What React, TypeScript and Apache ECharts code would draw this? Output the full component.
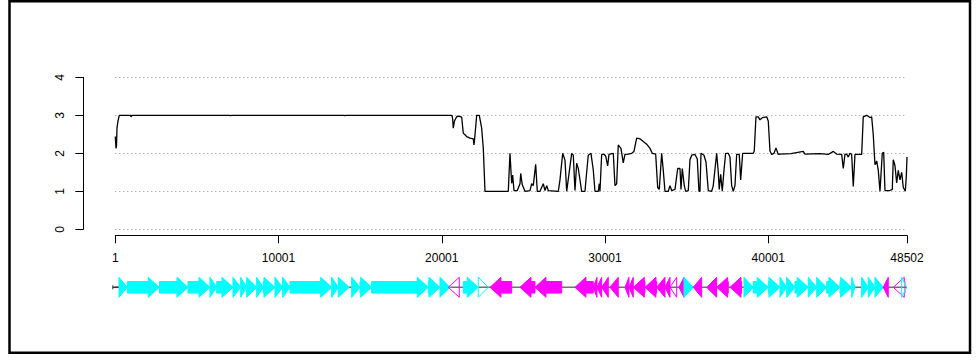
import { useEffect, useRef } from "react";
import * as echarts from "echarts";

// Genome length and labelled positions along it
const seqLength = 48502;
const xTickValues = [1, 10001, 20001, 30001, 40001, 48502];

// Conservation depth along the sequence: [position, depth]
const depthProfile: [number, number][] = [
  [1, 2.44], [44, 2.13], [75, 2.2], [105, 2.67], [166, 2.85], [246, 3.0],
  [930, 3.0], [963, 2.96], [1024, 3.0], [7000, 3.0], [7060, 2.99], [7120, 3.0],
  [14000, 3.0], [14060, 2.99], [14120, 3.0], [20626, 3.0], [20669, 2.9],
  [20706, 2.66], [20780, 2.85], [20914, 2.96], [20994, 2.98], [21221, 2.95],
  [21319, 2.53], [21527, 2.44], [21729, 2.4], [21931, 2.38], [21974, 2.22],
  [22036, 2.48], [22140, 3.0], [22300, 3.0], [22446, 2.66], [22545, 2.13],
  [22649, 1.0], [24076, 1.0], [24180, 2.0], [24284, 1.21], [24345, 1.43],
  [24425, 1.02], [24627, 1.02], [24793, 1.2], [24836, 1.47], [24934, 1.17],
  [25099, 1.0], [25405, 1.02], [25509, 1.2], [25607, 1.15], [25754, 1.71],
  [25853, 1.0], [26018, 1.0], [26220, 1.2], [26325, 1.02], [26429, 1.15],
  [26527, 1.02], [27139, 1.0], [27243, 1.3], [27409, 2.0], [27550, 1.82],
  [27654, 1.0], [27960, 2.0], [28058, 1.95], [28162, 1.02], [28266, 1.74],
  [28364, 1.6], [28572, 1.0], [28774, 1.0], [28878, 1.5], [28976, 1.95],
  [29142, 2.0], [29282, 1.56], [29387, 1.0], [29589, 1.0], [29650, 1.2],
  [29693, 1.0], [29797, 1.97], [29957, 1.97], [30042, 1.93], [30165, 1.67],
  [30245, 1.97], [30508, 2.0], [30612, 1.15], [30716, 1.2], [30814, 2.22],
  [30979, 2.13], [31120, 1.75], [31225, 1.97], [31427, 1.98], [31635, 2.0],
  [31776, 2.05], [31941, 2.4], [32144, 2.38], [32346, 2.31], [32554, 2.24],
  [32756, 2.13], [32897, 2.0], [33105, 1.98], [33228, 1.1], [33326, 1.05],
  [33473, 2.0], [33571, 1.55], [33675, 1.0], [33878, 1.0], [33982, 1.15],
  [34086, 1.02], [34289, 1.05], [34454, 1.6], [34595, 1.6], [34656, 1.05],
  [34736, 1.6], [34858, 1.15], [34944, 1.0], [35103, 1.02], [35207, 1.83],
  [35311, 1.95], [35513, 1.97], [35654, 1.85], [35758, 1.0], [35819, 1.0],
  [35881, 2.0], [36064, 1.95], [36187, 1.77], [36328, 1.02], [36535, 1.0],
  [36633, 1.15], [36842, 2.0], [36940, 1.5], [37001, 1.05], [37087, 1.45],
  [37185, 1.0], [37289, 1.55], [37393, 2.0], [37553, 2.0], [37657, 1.9],
  [37761, 1.15], [37859, 1.0], [37963, 1.15], [38067, 1.97], [38226, 1.97],
  [38312, 1.3], [38435, 2.0], [39084, 2.0], [39145, 2.06], [39249, 2.96],
  [39390, 2.96], [39495, 2.88], [39660, 2.94], [39905, 2.96], [40003, 2.85],
  [40108, 2.06], [40212, 1.97], [40353, 2.0], [40476, 2.14], [40616, 1.97],
  [40720, 1.98], [41400, 1.99], [42147, 2.05], [42251, 1.98], [43170, 1.99],
  [43679, 1.97], [43985, 2.05], [44193, 1.98], [44500, 1.97], [44598, 1.6],
  [44702, 1.97], [44806, 1.98], [44904, 1.9], [45008, 2.0], [45112, 1.97],
  [45210, 1.13], [45315, 1.97], [45725, 1.97], [45823, 2.96], [46031, 3.0],
  [46233, 2.94], [46338, 2.96], [46436, 2.48], [46540, 1.7], [46645, 1.8],
  [46743, 1.55], [46847, 1.0], [46988, 2.0], [47073, 2.03], [47153, 1.02],
  [47459, 1.02], [47600, 1.05], [47661, 1.83], [47765, 1.68], [47869, 1.22],
  [47967, 1.55], [48071, 1.3], [48176, 1.5], [48275, 1.1], [48400, 1.0],
  [48460, 1.4], [48502, 1.9],
];

// Annotated genes: [start, end, strand (1 forward, -1 reverse), filled (1) or outline (0)]
const genes: [number, number, number, number][] = [
  [227, 735, 1, 1], [736, 2695, 1, 1], [2708, 4454, 1, 1], [4454, 5801, 1, 1],
  [5801, 6212, 1, 1], [6212, 7210, 1, 1], [7210, 7682, 1, 1], [7682, 8050, 1, 1],
  [8050, 8662, 1, 1], [8662, 9066, 1, 1], [9066, 9783, 1, 1], [9783, 10255, 1, 1],
  [10255, 10702, 1, 1], [10702, 13257, 1, 1], [13257, 13661, 1, 1], [13661, 14335, 1, 1],
  [14482, 14990, 1, 1], [14990, 15707, 1, 1], [15707, 19174, 1, 1], [19174, 19891, 1, 1],
  [19891, 20504, 1, 1], [20400, 21073, -1, 0], [21318, 22237, 1, 1], [22237, 22850, 1, 0],
  [22954, 24284, -1, 1], [24792, 25711, -1, 1], [25711, 27347, -1, 1], [28161, 29282, -1, 1],
  [29282, 29509, -1, 1], [29509, 29797, -1, 1], [29797, 30201, -1, 1], [30306, 30814, -1, 1],
  [31224, 31469, -1, 1], [31469, 31734, -1, 1], [31734, 32450, -1, 1], [32450, 33167, -1, 1],
  [33167, 33675, -1, 1], [33675, 33982, -1, 1], [33982, 34392, -1, 0], [34533, 34839, -1, 1],
  [34839, 35408, 1, 1], [35408, 35923, -1, 1], [36229, 36842, -1, 1], [36842, 37553, -1, 1],
  [37657, 38374, -1, 1], [38515, 39084, 1, 1], [39084, 40003, 1, 1], [40003, 40720, 1, 1],
  [40720, 41131, 1, 1], [41131, 41638, 1, 1], [41638, 42453, 1, 1], [42453, 42968, 1, 1],
  [42968, 43580, 1, 1], [43580, 44396, 1, 1], [44396, 45112, 1, 1], [45112, 45315, 1, 1],
  [45724, 46129, 1, 1], [46129, 46540, 1, 1], [46540, 47048, 1, 1], [47048, 47354, -1, 1],
  [47661, 48378, -1, 0], [48176, 48482, 1, 0],
];

const FONT = '"Liberation Sans", Arial, Helvetica, sans-serif';
const FORWARD = "#00FFFF";
const REVERSE = "#FF00FF";

export default function App() {
  const ref = useRef<HTMLDivElement>(null);

  useEffect(() => {
    if (!ref.current) return;
    const chart = echarts.init(ref.current, null, { renderer: "svg" });

    const option: any = {
      animation: false,
      backgroundColor: "#ffffff",
      textStyle: { fontFamily: FONT },
      graphic: [
        {
          type: "rect",
          shape: { x: 9.5, y: 1.2, width: 960.5, height: 351.5 },
          style: { fill: "none", stroke: "#000", lineWidth: 2.5 },
          z: 100,
        },
      ],
      grid: [
        { left: 115.3, right: 70, top: 77.3, height: 152, containLabel: false },
        { left: 115.3, right: 70, top: 277.3, height: 20, containLabel: false },
      ],
      xAxis: [
        {
          type: "value",
          gridIndex: 0,
          min: 1,
          max: seqLength,
          position: "bottom",
          offset: 6,
          axisLine: { show: true, onZero: false, lineStyle: { color: "#000", width: 1 } },
          axisTick: { show: true, length: 8, customValues: xTickValues, lineStyle: { color: "#000", width: 1 } },
          axisLabel: {
            show: true,
            customValues: xTickValues,
            margin: 17,
            fontSize: 12,
            color: "#000",
            fontFamily: FONT,
            formatter: (v: number) => String(v),
          },
          splitLine: { show: false },
        },
        {
          type: "value",
          gridIndex: 1,
          min: 1,
          max: seqLength,
          show: false,
        },
      ],
      yAxis: [
        {
          type: "value",
          gridIndex: 0,
          min: 0,
          max: 4,
          interval: 1,
          offset: 32,
          axisLine: { show: true, lineStyle: { color: "#000", width: 1 } },
          axisTick: { show: true, length: 8, lineStyle: { color: "#000", width: 1 } },
          axisLabel: { rotate: 90, margin: 17, fontSize: 12, color: "#000", fontFamily: FONT },
          splitLine: { show: true, lineStyle: { color: "#8f8f8f", width: 1, type: [1, 3] } },
        },
        { type: "value", gridIndex: 1, min: 0, max: 1, show: false },
      ],
      series: [
        {
          type: "line",
          xAxisIndex: 0,
          yAxisIndex: 0,
          data: depthProfile,
          showSymbol: false,
          symbol: "none",
          lineStyle: { color: "#000", width: 1.3 },
          z: 5,
        },
        {
          type: "line",
          xAxisIndex: 1,
          yAxisIndex: 1,
          data: [
            [1, 0.5],
            [seqLength, 0.5],
          ],
          showSymbol: false,
          symbol: "none",
          lineStyle: { color: "#707070", width: 1.5 },
          z: 1,
        },
        {
          // small start marker at the left end of the backbone
          type: "custom",
          xAxisIndex: 1,
          yAxisIndex: 1,
          data: [[1]],
          z: 3,
          renderItem: (_params: any, api: any) => {
            const p = api.coord([api.value(0), 0.5]);
            return {
              type: "group",
              children: [
                {
                  type: "line",
                  shape: { x1: p[0] - 2.5, y1: p[1] - 2, x2: p[0] - 2.5, y2: p[1] + 2 },
                  style: { stroke: "#333", lineWidth: 1 },
                },
                {
                  type: "line",
                  shape: { x1: p[0] - 2.5, y1: p[1], x2: p[0] + 3, y2: p[1] },
                  style: { stroke: "#333", lineWidth: 1.5 },
                },
              ],
            };
          },
        },
        {
          type: "custom",
          xAxisIndex: 1,
          yAxisIndex: 1,
          data: genes,
          z: 2,
          renderItem: (_params: any, api: any) => {
            const s = api.coord([api.value(0), 0.5]);
            const e = api.coord([api.value(1), 0.5]);
            const strand = api.value(2);
            const filled = api.value(3) === 1;
            const color = strand > 0 ? FORWARD : REVERSE;
            const x0 = s[0];
            const x1 = e[0];
            const cy = s[1];
            const len = x1 - x0;
            const head = Math.min(11, len);
            const hh = 10;
            const sh = 5.8;
            let pts: number[][];
            if (strand > 0) {
              const hb = x1 - head;
              pts =
                head >= len
                  ? [[x0, cy - hh], [x1, cy], [x0, cy + hh]]
                  : [[x0, cy - sh], [hb, cy - sh], [hb, cy - hh], [x1, cy], [hb, cy + hh], [hb, cy + sh], [x0, cy + sh]];
            } else {
              const hb = x0 + head;
              pts =
                head >= len
                  ? [[x1, cy - hh], [x0, cy], [x1, cy + hh]]
                  : [[x1, cy - sh], [hb, cy - sh], [hb, cy - hh], [x0, cy], [hb, cy + hh], [hb, cy + sh], [x1, cy + sh]];
            }
            return {
              type: "polygon",
              shape: { points: pts },
              style: { fill: filled ? color : "none", stroke: color, lineWidth: 1 },
            };
          },
        },
      ],
    };

    chart.setOption(option);
    return () => chart.dispose();
  }, []);

  return (
    <div
      ref={ref}
      style={{ position: "fixed", left: 0, top: 0, width: 977, height: 360, background: "#fff" }}
    />
  );
}
